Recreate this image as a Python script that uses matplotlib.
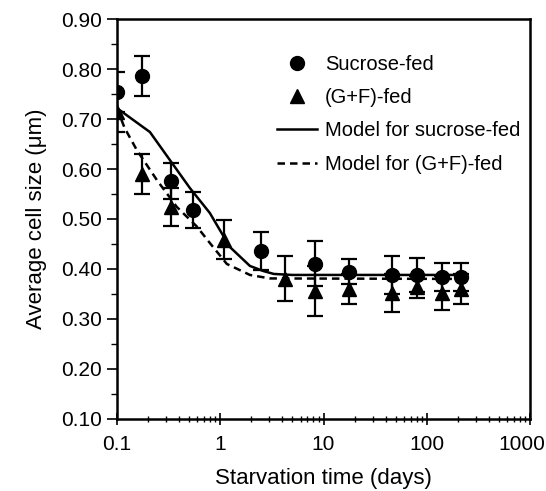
import numpy as np
import matplotlib.pyplot as plt
import matplotlib.transforms as mtransforms
from matplotlib.ticker import FixedLocator, MultipleLocator, FormatStrFormatter, LogLocator, NullFormatter

plt.rcParams['font.family'] = ['Liberation Sans', 'DejaVu Sans']

suc_x = [0.1, 0.175, 0.333, 0.55, 2.5, 8.3, 17.6, 46, 80, 140, 214]
suc_y = [0.754, 0.786, 0.576, 0.518, 0.436, 0.410, 0.394, 0.388, 0.388, 0.384, 0.384]
suc_err = [0.040, 0.040, 0.036, 0.036, 0.038, 0.045, 0.025, 0.038, 0.034, 0.028, 0.028]

gf_x = [0.1, 0.175, 0.333, 1.1, 4.2, 8.3, 17.6, 46, 80, 140, 214]
gf_y = [0.714, 0.590, 0.524, 0.458, 0.380, 0.355, 0.360, 0.352, 0.364, 0.352, 0.360]
gf_err = [0.040, 0.040, 0.039, 0.039, 0.045, 0.050, 0.030, 0.038, 0.022, 0.034, 0.030]

# Model curves
msuc_x = [0.1, 0.209, 0.326, 0.509, 0.794, 1.24, 1.94, 2.6, 3.3, 5, 240]
msuc_y = [0.722, 0.674, 0.618, 0.562, 0.512, 0.444, 0.406, 0.396, 0.390, 0.388, 0.388]
mgf_x = [0.1, 0.119, 0.156, 0.244, 0.381, 0.594, 0.794, 1.16, 1.94, 3.03, 240]
mgf_y = [0.722, 0.682, 0.638, 0.578, 0.524, 0.485, 0.452, 0.410, 0.388, 0.381, 0.380]

x_ticks = [0.1, 1, 10, 100, 1000]
x_labels = ['0.1', '1', '10', '100', '1000']

fig = plt.figure(figsize=(5.46, 4.91), dpi=100)
ax = fig.add_axes([0.214, 0.147, 0.757, 0.814])

ax.plot(msuc_x, msuc_y, '-', color='black', lw=1.8, label='Model for sucrose-fed')
ax.plot(mgf_x, mgf_y, color='black', lw=1.8, linestyle=(0, (3, 2)), label='Model for (G+F)-fed')

ax.errorbar(suc_x, suc_y, yerr=suc_err, fmt='none', ecolor='black', elinewidth=1.6, capsize=6, capthick=1.6)
ax.errorbar(gf_x, gf_y, yerr=gf_err, fmt='none', ecolor='black', elinewidth=1.6, capsize=6, capthick=1.6)
ax.plot(suc_x, suc_y, 'o', color='black', ms=10, ls='none', label='Sucrose-fed')
ax.plot(gf_x, gf_y, '^', color='black', ms=10, ls='none', label='(G+F)-fed')

ax.set_xscale('log')
ax.set_xlim(0.1, 1000)
ax.set_ylim(0.10, 0.90)
ax.xaxis.set_major_locator(FixedLocator(x_ticks))
ax.set_xticklabels(x_labels)
ax.xaxis.set_minor_locator(LogLocator(base=10, subs=np.arange(2, 10)))
ax.xaxis.set_minor_formatter(NullFormatter())
ax.yaxis.set_major_locator(MultipleLocator(0.1))
ax.yaxis.set_minor_locator(MultipleLocator(0.05))
ax.yaxis.set_major_formatter(FormatStrFormatter('%.2f'))

ax.tick_params(axis='x', which='major', direction='inout', length=8, width=1.2, labelsize=15, pad=8)
ax.tick_params(axis='x', which='minor', direction='inout', length=5, width=1)
ax.tick_params(axis='y', which='major', direction='out', length=7, width=1.2, labelsize=15)
ax.tick_params(axis='y', which='minor', direction='out', length=4, width=1)
for s in ax.spines.values():
    s.set_linewidth(1.8)

# nudge the last x label left so it stays inside the figure
last = ax.get_xticklabels()[-1]
last.set_transform(last.get_transform() + mtransforms.ScaledTranslation(-8 / 100, 0, fig.dpi_scale_trans))

ax.set_xlabel('Starvation time (days)', fontsize=16, labelpad=10)
ax.set_ylabel('Average cell size (\u03bcm)', fontsize=16, labelpad=10)

h, l = ax.get_legend_handles_labels()
order = [2, 3, 0, 1]
ax.legend([h[i] for i in order], [l[i] for i in order], loc='upper right',
          bbox_to_anchor=(1.02, 0.955), frameon=False, fontsize=14.5,
          numpoints=1, handlelength=2.0, handletextpad=0.4, labelspacing=0.7)

plt.savefig('out.png', dpi=100)
